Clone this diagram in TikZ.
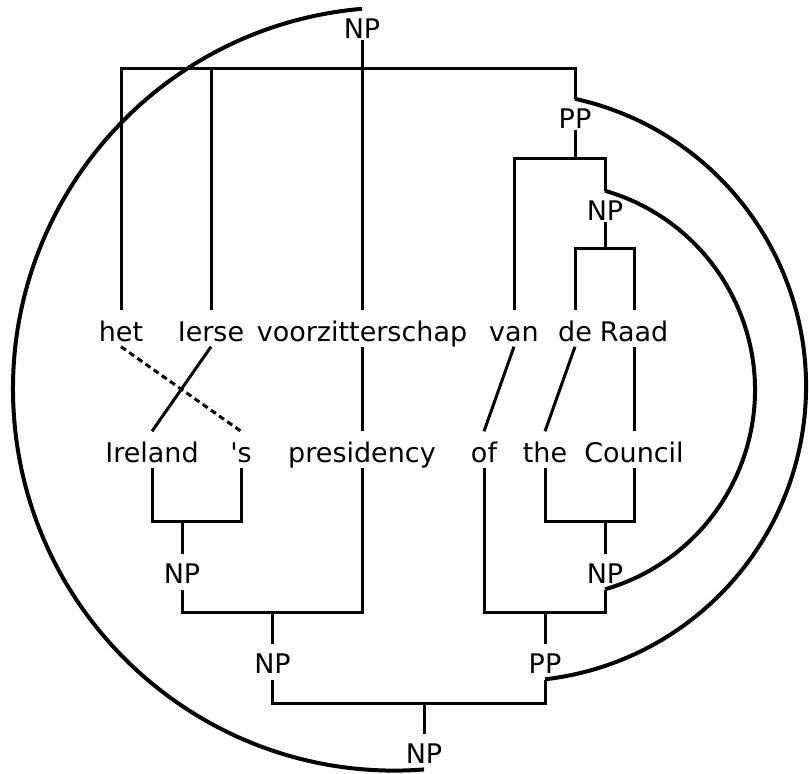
\documentclass[tikz,border=0pt]{standalone}
\usepackage{fontspec}
\setmainfont{DejaVu Sans}
\begin{document}
\begin{tikzpicture}[x=1pt,y=-1pt,
  txt/.style={font=\fontsize{27}{31}\selectfont, inner sep=0pt, anchor=base},
  word/.style={txt, text height=31pt, text depth=5.5pt},
  cat/.style={txt, text height=29pt},
  catup/.style={cat, text depth=1.5pt},
  catdown/.style={cat, text depth=6.5pt},
  treeline/.style={line width=3pt},
  alignline/.style={line width=3pt},
  crossline/.style={line width=4pt}]
\useasboundingbox (0,0) rectangle (809,774);

% Dutch sentence and its tree (root at the top)
\node[word] (het)   at (121,341) {het};
\node[word] (ierse) at (211,341) {Ierse};
\node[word] (voorz) at (362,341) {voorzitterschap};
\node[word] (van)   at (514,341) {van};
\node[word] (de)    at (575,341) {de};
\node[word] (raad)  at (634,341) {Raad};

\node[catup] (npT)  at (362,38)  {NP};
\node[catup] (ppT)  at (575,128) {PP};
\node[catup] (npT2) at (605,220) {NP};

\coordinate (jT1) at (362,68);
\coordinate (jT2) at (575,158);
\coordinate (jT3) at (605,248);

\draw[treeline] (het.north) |- (jT1) -| (ppT.north);
\draw[treeline] (ierse.north) -- (ierse.north |- jT1);
\draw[treeline] (npT.south) -- (voorz.north);
\draw[treeline] (van.north) |- (jT2) -| (npT2.north);
\draw[treeline] (ppT.south) -- (jT2);
\draw[treeline] (de.north) |- (jT3) -| (raad.north);
\draw[treeline] (npT2.south) -- (jT3);

% English sentence and its tree (root at the bottom)
\node[word] (ireland)    at (152,462.5) {Ireland};
\node[word] (s)          at (241,462.5) {\textquotesingle s};
\node[word] (presidency) at (362,462.5) {presidency};
\node[word] (of)         at (484,462.5) {of};
\node[word] (the)        at (545,462.5) {the};
\node[word] (council)    at (634,462.5) {Council};

\node[catdown] (npB1) at (182,583)   {NP};
\node[catdown] (npB2) at (272.5,673) {NP};
\node[catdown] (npB3) at (605,583)   {NP};
\node[catdown] (ppB)  at (545,673)   {PP};
\node[catdown] (npB4) at (424,763)   {NP};

\coordinate (jB1) at (182,521);
\coordinate (jB2) at (272.5,612);
\coordinate (jB3) at (605,521);
\coordinate (jB4) at (545,612);
\coordinate (jB5) at (424,703);

\draw[treeline] (ireland.south) |- (jB1) -| (s.south);
\draw[treeline] (jB1) -- (npB1.north);
\draw[treeline] (npB1.south) |- (jB2) -| (presidency.south);
\draw[treeline] (jB2) -- (npB2.north);
\draw[treeline] (the.south) |- (jB3) -| (council.south);
\draw[treeline] (jB3) -- (npB3.north);
\draw[treeline] (of.south) |- (jB4) -| (npB3.south);
\draw[treeline] (jB4) -- (ppB.north);
\draw[treeline] (npB2.south) |- (jB5) -| (ppB.south);
\draw[treeline] (jB5) -- (npB4.north);

% word alignments
\draw[alignline, dash pattern=on 6pt off 4pt] (het.south) -- (s.north);
\draw[alignline] (ierse.south) -- (ireland.north);
\draw[alignline] (voorz.south) -- (presidency.north);
\draw[alignline] (van.south) -- (of.north);
\draw[alignline] (de.south) -- (the.north);
\draw[alignline] (raad.south) -- (council.north);

% node alignments
\draw[crossline] (npT.north)  arc[start angle=94.9,  end angle=274.42, radius=381.6pt];
\draw[crossline] (ppT.north)  arc[start angle=77.52, end angle=-83.43, radius=294.7pt];
\draw[crossline] (npT2.north) arc[start angle=73.94, end angle=-73.94, radius=207.34pt];
\end{tikzpicture}
\end{document}
